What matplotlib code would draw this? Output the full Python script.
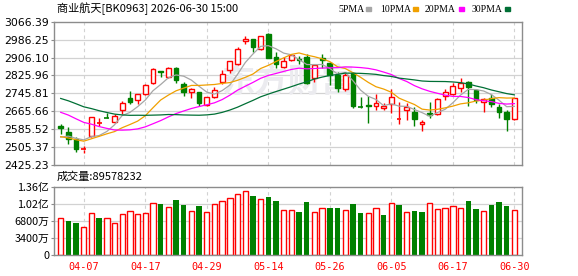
import matplotlib
matplotlib.use("Agg")
import matplotlib.pyplot as plt
import numpy as np
import pandas as pd

# ── data ──────────────────────────────────────────────────────────────────────
dates = ["04-01", "04-02", "04-03", "04-07", "04-08", "04-09", "04-10", "04-13", "04-14", "04-15",
         "04-16", "04-17", "04-20", "04-21", "04-22", "04-23", "04-24", "04-27", "04-28", "04-29",
         "04-30", "05-06", "05-07", "05-08", "05-11", "05-12", "05-13", "05-14", "05-15", "05-18",
         "05-19", "05-20", "05-21", "05-22", "05-25", "05-26", "05-27", "05-28", "05-29", "06-01",
         "06-02", "06-03", "06-04", "06-05", "06-08", "06-09", "06-10", "06-11", "06-12", "06-15",
         "06-16", "06-17", "06-18", "06-22", "06-23", "06-24", "06-25", "06-26", "06-29", "06-30"]

opens = [2599.8, 2571.4, 2541.6, 2494.0, 2553.5, 2612.0, 2634.5, 2616.2, 2669.9, 2725.0,
         2714.6, 2741.4, 2790.7, 2845.5, 2817.5, 2860.7, 2787.7, 2750.4, 2750.4, 2693.7,
         2731.0, 2796.6, 2848.8, 2875.7, 2980.0, 2989.0, 2944.3, 3011.4, 2907.0, 2863.7,
         2895.0, 2900.0, 2909.9, 2816.0, 2902.5, 2880.1, 2827.9, 2763.8, 2835.4, 2686.3,
         2693.7, 2687.8, 2678.8, 2696.7, 2632.0, 2669.9, 2662.4, 2607.2, 2659.4, 2653.5,
         2734.0, 2741.4, 2768.3, 2796.6, 2760.8, 2705.6, 2723.5, 2684.8, 2662.4, 2632.6]
highs = [2607.2, 2593.8, 2549.1, 2510.3, 2641.5, 2634.0, 2659.4, 2652.0, 2711.6, 2754.9,
         2744.4, 2787.7, 2860.7, 2846.0, 2862.2, 2865.2, 2798.1, 2771.3, 2753.4, 2731.0,
         2775.7, 2850.3, 2892.1, 2953.2, 3000.9, 2990.0, 3003.9, 3015.8, 2929.3, 2907.0,
         2921.9, 2914.4, 2920.4, 2877.2, 2920.4, 2887.6, 2839.9, 2835.4, 2839.9, 2731.0,
         2734.0, 2741.4, 2702.7, 2765.3, 2708.6, 2701.2, 2686.3, 2626.6, 2705.6, 2723.5,
         2765.3, 2790.7, 2813.0, 2801.1, 2763.8, 2726.5, 2741.4, 2696.7, 2671.3, 2726.5]
lows = [2564.0, 2517.7, 2484.9, 2480.5, 2550.5, 2600.0, 2631.0, 2613.2, 2653.5, 2696.7,
        2699.7, 2738.4, 2787.7, 2819.0, 2813.0, 2790.7, 2734.0, 2723.5, 2690.7, 2689.3,
        2723.5, 2789.2, 2835.4, 2872.7, 2968.1, 2930.8, 2941.3, 2902.5, 2857.8, 2857.8,
        2892.1, 2878.0, 2789.2, 2798.1, 2857.8, 2783.2, 2753.4, 2757.8, 2678.8, 2678.8,
        2611.7, 2671.3, 2671.3, 2656.4, 2607.2, 2626.6, 2599.8, 2577.4, 2637.0, 2650.5,
        2716.1, 2738.4, 2753.4, 2690.8, 2704.2, 2660.9, 2686.3, 2634.1, 2578.9, 2625.1]
closes = [2589.3, 2541.6, 2495.4, 2496.0, 2638.5, 2613.0, 2633.0, 2644.5, 2704.2, 2707.1,
          2741.4, 2781.7, 2853.3, 2843.0, 2857.8, 2805.6, 2753.4, 2765.3, 2704.2, 2728.0,
          2762.3, 2830.9, 2889.1, 2945.8, 2989.0, 2954.7, 3000.9, 2905.5, 2875.7, 2892.1,
          2917.4, 2895.0, 2793.6, 2872.7, 2896.5, 2827.9, 2771.3, 2827.9, 2689.3, 2684.8,
          2689.3, 2701.2, 2689.3, 2729.5, 2634.0, 2683.3, 2631.1, 2619.1, 2649.0, 2719.1,
          2753.4, 2778.7, 2790.7, 2775.7, 2714.6, 2722.0, 2699.7, 2663.9, 2629.6, 2723.5]

# closes before the window (only feed the moving averages at the left edge)
prior_closes = [2860, 2890, 2905, 2880, 2895, 2870, 2863, 2815, 2760, 2732,
                2790, 2830, 2815, 2800, 2825, 2795, 2788, 2720, 2680, 2657,
                2600, 2575, 2560, 2530, 2505, 2520, 2545, 2530, 2565.7]

# volume, in 万 shares
volume_wan = [7290, 6760, 6430, 5500, 8290, 7290, 7290, 6360, 8090, 8750,
              8150, 8350, 10280, 10140, 9480, 10940, 10010, 8750, 9750, 8490,
              10140, 10740, 11340, 12130, 12670, 11800, 11070, 11540, 10740, 8890,
              8890, 8550, 10540, 8490, 9280, 9350, 9350, 8890, 10140, 8350,
              8290, 9280, 7960, 10280, 9950, 8490, 8750, 8490, 10280, 9080,
              9280, 9680, 9280, 10740, 9150, 8690, 9950, 10480, 9750, 8957.8232]

price_ticks = [2425.23, 2505.37, 2585.52, 2665.66, 2745.81, 2825.96, 2906.10, 2986.25, 3066.39]
vol_ticks_wan = [0, 3400, 6800, 10200, 13600]
vol_tick_labels = ["0", "3400万", "6800万", "1.02亿", "1.36亿"]
date_labels = ["04-07", "04-17", "04-29", "05-14", "05-26", "06-05", "06-17", "06-30"]

ma_windows = [5, 10, 20, 30]
ma_colors = ["#a6a6a6", "#f0a000", "#ff00ff", "#006f35"]

RED = "#ff0000"
GREEN = "#008000"
BORDER = "#8c8c8c"
GRID = "#d2d2d2"

# ── derived ───────────────────────────────────────────────────────────────────
x = np.arange(len(closes))
o, h, l, c = map(np.array, (opens, highs, lows, closes))
up = c >= o
all_close = pd.Series(prior_closes + closes)
mas = {w: all_close.rolling(w).mean().to_numpy()[len(prior_closes):] for w in ma_windows}
prev_close = np.array([prior_closes[-1]] + closes[:-1])
vol_up = c >= prev_close
vol = np.array(volume_wan)
grid_x = [dates.index(d) for d in date_labels]

# ── figure ────────────────────────────────────────────────────────────────────
plt.rcParams["font.family"] = ["Noto Sans CJK SC", "DejaVu Sans"]
W, H = 578, 276
fig = plt.figure(figsize=(W / 100, H / 100), dpi=100)
fig.patch.set_facecolor("white")

ax = fig.add_axes([54 / W, 1 - 165 / H, 468 / W, (165 - 21.7) / H])
axv = fig.add_axes([54 / W, 1 - 255 / H, 468 / W, (255 - 186.7) / H])

xlim = (-0.87, 59.99)
for a in (ax, axv):
    a.set_xlim(*xlim)
    for s in a.spines.values():
        s.set_color(BORDER)
        s.set_linewidth(1.0)
    for gx in grid_x:
        a.axvline(gx, color=GRID, linestyle=(0, (3, 3)), linewidth=0.8, zorder=0)
    a.tick_params(axis="x", length=0, labelbottom=False)
    a.tick_params(axis="y", length=2, color=BORDER, pad=1.5, labelsize=8)

# price panel
ax.set_ylim(price_ticks[0], price_ticks[-1])
ax.set_yticks(price_ticks)
ax.set_yticklabels([f"{t:.2f}" for t in price_ticks], family="DejaVu Sans", fontsize=7.8)
for t in price_ticks[1:-1]:
    ax.axhline(t, color=GRID, linewidth=0.9, zorder=0)

ax.text(0.5, 0.57, "东方财富", transform=ax.transAxes, ha="center", va="center",
        fontsize=24, fontweight="bold", color="#ebebef", zorder=0)

bw = 0.62
for i in x:
    col = RED if up[i] else GREEN
    lo_b, hi_b = min(o[i], c[i]), max(o[i], c[i])
    ax.vlines(i, l[i], lo_b, color=col, linewidth=1.0, zorder=2)
    ax.vlines(i, hi_b, h[i], color=col, linewidth=1.0, zorder=2)
    if hi_b - lo_b < 2.5:
        ax.hlines((lo_b + hi_b) / 2, i - bw / 2, i + bw / 2, color=col, linewidth=1.2, zorder=2)
    else:
        ax.bar(i, hi_b - lo_b, bottom=lo_b, width=bw,
               facecolor="white" if up[i] else GREEN, edgecolor=col, linewidth=1.0, zorder=2)

for w, col in zip(ma_windows, ma_colors):
    ax.plot(x, mas[w], color=col, linewidth=0.9, zorder=3)

# volume panel
axv.set_ylim(0, vol_ticks_wan[-1])
axv.set_yticks(vol_ticks_wan)
axv.set_yticklabels(vol_tick_labels, fontsize=7.8)
for t in vol_ticks_wan[1:-1]:
    axv.axhline(t, color=GRID, linewidth=0.9, zorder=0)
axv.bar(x[vol_up], vol[vol_up], width=0.7, facecolor="white", edgecolor=RED, linewidth=1.0, zorder=2)
axv.bar(x[~vol_up], vol[~vol_up], width=0.7, color=GREEN, linewidth=0, zorder=2)

for gx, lab in zip(grid_x, date_labels):
    axv.text(gx, -0.18, lab, transform=axv.get_xaxis_transform(), ha="center", va="center",
             color=RED, fontsize=7.3, family="DejaVu Sans Mono")

# header texts
fig.text(57 / W, 1 - 9 / H, "商业航天[BK0963] 2026-06-30 15:00", ha="left", va="center",
         fontsize=8, color="black")
fig.text(57 / W, 1 - 177 / H, f"成交量:{int(round(volume_wan[-1] * 1e4))}", ha="left",
         va="center", fontsize=8, color="black")

# legend: label, then a small colour square
legend_text_x = [338, 380, 425, 472]
legend_box_x = [366, 413, 459, 505]
for w, col, tx, bx in zip(ma_windows, ma_colors, legend_text_x, legend_box_x):
    fig.text(tx / W, 1 - 9 / H, f"{w}PMA", ha="left", va="center", fontsize=7,
             family="Liberation Serif", color="black")
    fig.patches.append(plt.Rectangle((bx / W, 1 - 11 / H), 5 / W, 4 / H,
                                     transform=fig.transFigure, color=col, figure=fig))

fig.savefig("out.png", dpi=100)
